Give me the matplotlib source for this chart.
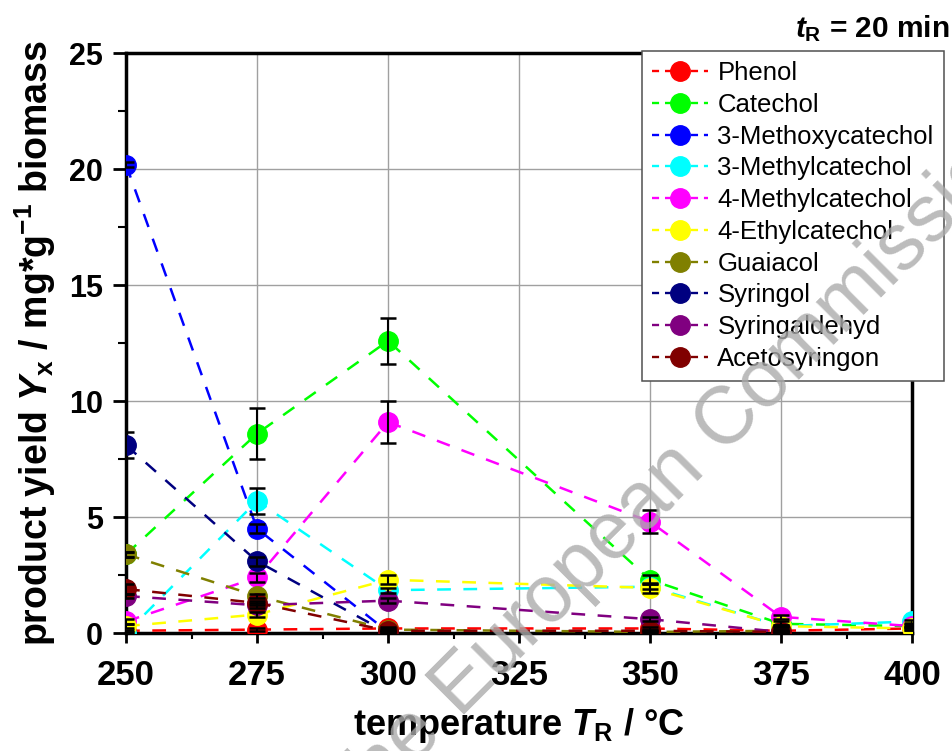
import numpy as np
import matplotlib
matplotlib.use("Agg")
import matplotlib.pyplot as plt
from matplotlib.lines import Line2D
from matplotlib.ticker import MultipleLocator

plt.rcParams['font.family'] = ['Liberation Sans', 'DejaVu Sans']
plt.rcParams['mathtext.fontset'] = 'custom'
plt.rcParams['mathtext.it'] = 'Liberation Sans:italic:bold'
plt.rcParams['mathtext.rm'] = 'Liberation Sans:bold'
plt.rcParams['mathtext.bf'] = 'Liberation Sans:bold'

# reaction temperature in degC
temperature = [250, 275, 300, 350, 375, 400]

# product yields in mg/g biomass
phenol = [0.1, 0.15, 0.2, 0.2, 0.1, 0.2]
catechol = [3.4, 8.6, 12.6, 2.3, 0.4, 0.3]
methoxycatechol = [20.2, 4.5, 0.05, np.nan, np.nan, np.nan]
methylcatechol3 = [0.0, 5.7, 1.85, 2.0, 0.3, 0.5]
methylcatechol4 = [0.5, 2.4, 9.1, 4.8, 0.7, 0.3]
ethylcatechol = [0.3, 0.8, 2.3, 1.95, 0.3, 0.2]
guaiacol = [3.4, 1.6, 0.15, 0.05, 0.1, np.nan]
syringol = [8.1, 3.1, 0.0, np.nan, np.nan, np.nan]
syringaldehyd = [1.6, 1.2, 1.4, 0.6, 0.05, np.nan]
acetosyringon = [1.9, 1.3, 0.1, 0.1, 0.05, np.nan]

# standard deviations
phenol_err = [0.05, 0.05, 0.05, 0.05, 0.05, 0.05]
catechol_err = [0.1, 1.1, 1.0, 0.2, 0.1, 0.1]
methoxycatechol_err = [0.1, 0.2, 0.05, 0, 0, 0]
methylcatechol3_err = [0.05, 0.55, 0.1, 0.1, 0.05, 0.05]
methylcatechol4_err = [0.1, 0.2, 0.9, 0.5, 0.1, 0.05]
ethylcatechol_err = [0.1, 0.1, 0.2, 0.2, 0.05, 0.05]
guaiacol_err = [0.1, 0.1, 0.05, 0.05, 0.05, 0]
syringol_err = [0.55, 0.2, 0.05, 0, 0, 0]
syringaldehyd_err = [0.1, 0.1, 0.1, 0.1, 0.05, 0]
acetosyringon_err = [0.2, 0.1, 0.05, 0.05, 0.05, 0]

names = ["Phenol", "Catechol", "3-Methoxycatechol", "3-Methylcatechol",
         "4-Methylcatechol", "4-Ethylcatechol", "Guaiacol", "Syringol",
         "Syringaldehyd", "Acetosyringon"]
series = [phenol, catechol, methoxycatechol, methylcatechol3, methylcatechol4,
          ethylcatechol, guaiacol, syringol, syringaldehyd, acetosyringon]
errors = [phenol_err, catechol_err, methoxycatechol_err, methylcatechol3_err,
          methylcatechol4_err, ethylcatechol_err, guaiacol_err, syringol_err,
          syringaldehyd_err, acetosyringon_err]
colors = ["#ff0000", "#00ff00", "#0000ff", "#00ffff", "#ff00ff",
          "#ffff00", "#808000", "#000080", "#800080", "#800000"]

fig = plt.figure(figsize=(9.52, 7.51), dpi=100)
ax = fig.add_axes([0.1324, 0.157, 0.8256, 0.772])

handles = []
for name, vals, err, col in zip(names, series, errors, colors):
    ax.plot(temperature, vals, color=col, ls=(0, (5.5, 5)), lw=1.8,
            marker='o', markersize=14, markeredgecolor=col, zorder=3)
    ax.errorbar(temperature, vals, yerr=err, fmt='none', ecolor='black',
                elinewidth=1.5, capsize=6, capthick=1.8, zorder=4)
    handles.append(Line2D([], [], color=col, ls=(0, (3, 2.5)), lw=1.7,
                          marker='o', markersize=14, markeredgecolor=col,
                          label=name))

ax.set_xlim(250, 400)
ax.set_ylim(0, 25)
ax.set_xticks([250, 275, 300, 325, 350, 375, 400])
ax.xaxis.set_minor_locator(MultipleLocator(12.5))
ax.set_yticks([0, 5, 10, 15, 20, 25])
ax.yaxis.set_minor_locator(MultipleLocator(2.5))
ax.grid(True, which='major', color='#a0a0a0', lw=1)
ax.set_axisbelow(True)
for sp in ax.spines.values():
    sp.set_linewidth(2.5)
    sp.set_color('black')
ax.tick_params(axis='x', which='major', labelsize=25, width=2, length=7,
               pad=12, direction='out')
ax.tick_params(axis='x', which='minor', width=1.5, length=4, direction='out')
ax.tick_params(axis='y', which='major', labelsize=22, width=2, length=9.5,
               pad=7, direction='out')
ax.tick_params(axis='y', which='minor', width=1.5, length=6, direction='out')
for lbl in ax.get_xticklabels() + ax.get_yticklabels():
    lbl.set_fontweight('bold')

ax.set_xlabel(r"temperature $\mathit{T}_\mathrm{R}$ / °C", fontsize=26,
              fontweight='bold', labelpad=10)
ax.set_ylabel(r"product yield $\mathit{Y}_\mathrm{x}$ / mg*g$^{\mathrm{-1}}$ biomass",
              fontsize=27, fontweight='bold', labelpad=8)

fig.text(0.998, 0.962, r"$\mathit{t}_\mathrm{R}$ = 20 min", ha='right', va='center',
         fontsize=21.5, fontweight='bold')

leg = ax.legend(handles=handles, loc='upper left', bbox_to_anchor=(0.656, 1.004),
                fontsize=18.5, frameon=True, fancybox=False, edgecolor='#505050',
                handlelength=2.2, handletextpad=0.35, borderpad=0.4,
                labelspacing=0.3, borderaxespad=0, framealpha=1)
leg.get_frame().set_linewidth(1.1)

# watermark
fig.text(0.72, 0.383, "the European Commission", rotation=45, fontsize=58,
         color='#ababab', alpha=0.8, ha='center', va='center', zorder=10)

fig.savefig("out.png", dpi=100)
